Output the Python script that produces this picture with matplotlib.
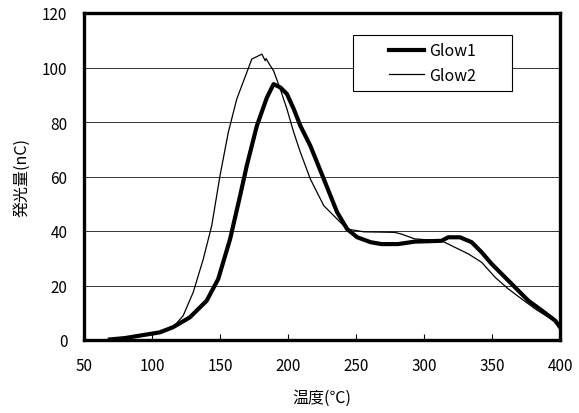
import matplotlib
matplotlib.use("Agg")
import matplotlib.pyplot as plt
from matplotlib.patches import Rectangle

plt.rcParams['font.family'] = ['Noto Sans CJK JP', 'DejaVu Sans']

glow1_x = [69, 80, 90.9, 105.7, 115.5, 127.8, 140.2, 148.7, 157.4, 164.8, 169.7, 177.1, 184.5, 189.4,
           194.3, 199.2, 204.2, 209.1, 216.4, 226.3, 236.1, 243.5, 250.9, 260.7, 268.6, 273, 280.9,
           293.2, 312.9, 317.8, 326.4, 335, 342.4, 349.8, 359.6, 367, 376.8, 386.7, 396.5, 400]
glow1_y = [0.2, 0.7, 1.6, 2.8, 4.7, 8.3, 14.4, 22.4, 37, 53, 64, 78.6, 89, 93.9,
           92.7, 90.3, 84.8, 78.6, 71.3, 59.1, 46.9, 40.7, 37.7, 35.9, 35.2, 35.2, 35.2,
           36.1, 36.4, 37.7, 37.7, 35.9, 32.2, 27.9, 23, 19.3, 14.4, 10.8, 7.1, 4.7]

glow2_x = [69, 80, 90.9, 105.7, 115.5, 122.9, 130.3, 137.7, 143.9, 150, 156.1, 162.3, 169.7, 173.4,
           180.8, 183.2, 183.9, 186.9, 189.4, 194.3, 199.2, 204.2, 209.1, 216.4, 226.3, 236.1, 243.5,
           255.8, 268, 278.4, 283.3, 293.2, 312.9, 320.3, 332.6, 342.4, 352.3, 362.1, 372, 381.8,
           391.6, 400]
glow2_y = [0.2, 0.7, 1.6, 2.8, 4.7, 8.9, 17.5, 29.7, 41.9, 60.3, 76.2, 88.4, 98.2, 103.1,
           104.9, 102.5, 103.3, 100.7, 98.8, 92.1, 84.8, 76.2, 68.9, 59.1, 49.3, 44.4, 40.7,
           39.7, 39.6, 39.5, 38.9, 37.1, 36.4, 34.6, 31.6, 28.5, 23, 18.7, 15, 11.4,
           8.3, 5.7]

x_ticks = [50, 100, 150, 200, 250, 300, 350, 400]
y_ticks = [0, 20, 40, 60, 80, 100, 120]

fig = plt.figure(figsize=(5.79, 4.14), dpi=100)
ax = fig.add_axes([84/579, (414-341)/414, 476/579, 327/414])

for yv in y_ticks[1:-1]:
    ax.axhline(yv, color='#333333', lw=0.7, zorder=1)

ax.plot(glow1_x, glow1_y, color='black', lw=3.0, label='Glow1', zorder=3)
ax.plot(glow2_x, glow2_y, color='black', lw=0.9, label='Glow2', zorder=2)

ax.set_xlim(50, 400)
ax.set_ylim(0, 120)
ax.set_xticks(x_ticks)
ax.set_yticks(y_ticks)
ax.tick_params(axis='x', direction='in', length=4, width=0.8, labelsize=11, pad=12)
ax.tick_params(axis='y', direction='out', length=0, labelsize=11, pad=12)
for s in ax.spines.values():
    s.set_linewidth(2.4)
    s.set_color('black')

ax.set_xlabel('温度(℃)', fontsize=11.5, labelpad=11)
ax.set_ylabel('発光量(nC)', fontsize=11.5, labelpad=8)

# legend frame
ax.add_patch(Rectangle((0.565, 0.761), 0.334, 0.172, transform=ax.transAxes,
                       facecolor='white', edgecolor='black', lw=0.8, zorder=4))
leg = ax.legend(loc='center', bbox_to_anchor=(0.732, 0.847), fontsize=11.5,
                frameon=False, handlelength=2.2, handletextpad=0.3,
                labelspacing=0.45, borderaxespad=0)
leg.set_zorder(5)

fig.savefig('out.png', dpi=100)
